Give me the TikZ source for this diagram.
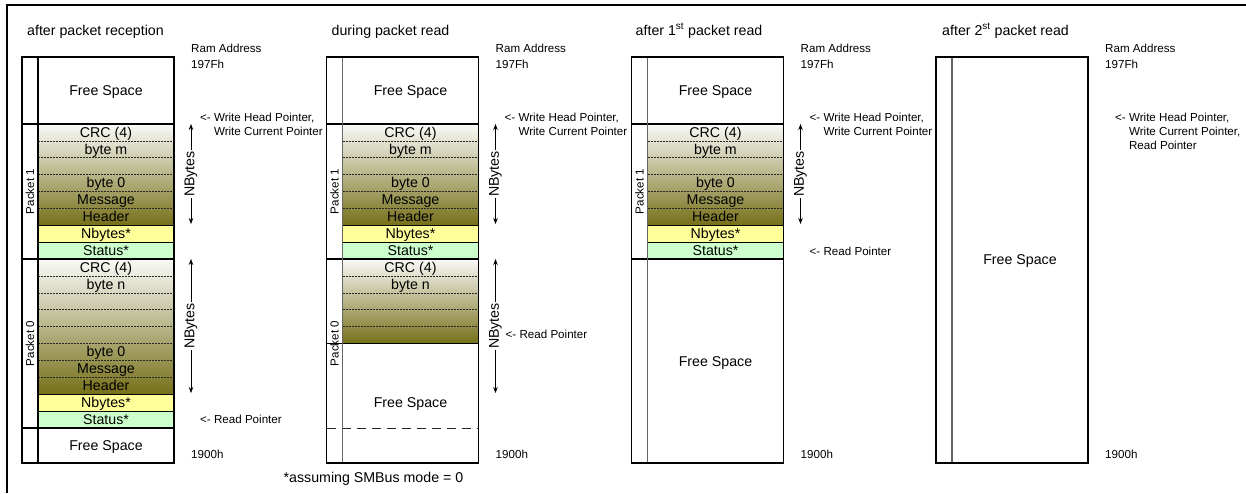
\documentclass[tikz,border=0pt]{standalone}
\usepackage{fontspec}
\setmainfont{Liberation Sans}
\usetikzlibrary{arrows.meta}
\definecolor{gtop}{HTML}{FAFAF8}
\definecolor{gmid}{HTML}{D2D1C5}
\definecolor{gbot}{HTML}{767019}
\definecolor{nbfill}{HTML}{FFFF99}
\definecolor{stfill}{HTML}{CCFFCC}
\newcommand\BigF{\fontsize{14.2}{15}\selectfont}
\newcommand\SmF{\fontsize{11.6}{14}\selectfont}
\newcommand\PktOne[1]{%
  \shade[grad] (16,124) rectangle (152,225.25);
  \fill[nbfill] (16,225.25) rectangle (152,242.125);
  \fill[stfill] (16,242.125) rectangle (152,259);
  \foreach \k in {1,...,5} {\draw[dsh] (16,{124+\k*16.875}) -- (152,{124+\k*16.875});}
  \draw[rowline] (16,225.25) -- (152,225.25);
  \draw[rowline] (16,242.125) -- (152,242.125);
  \node[cell] (#1a) at (84,137.2) {CRC (4)};
  \node[cell] (#1b) at (84,154.1) {byte m};
  \node[cell] (#1c) at (84,187.9) {byte 0};
  \node[cell] (#1d) at (84,204.8) {Message};
  \node[cell] (#1e) at (84,221.6) {Header};
  \node[cell] (#1f) at (84,238.5) {Nbytes*};
  \node[cell] (#1g) at (84,255.4) {Status*};
  \node[plabel] (#1p) at (8,191.5) {Packet 1};
  \coordinate (#1t) at (169,124);
  \coordinate (#1u) at (169,224);
  \draw[nb] (#1t) -- node[nblabel] (#1n) {NBytes} (#1u);
}
\newcommand\ColHead[2]{%
  \node[smt] (#1ram) at (169,52) {Ram Address};
  \node[smt] (#1adr) at (169,68) {197Fh};
  \node[smt] (#1low) at (169,458) {1900h};
}
\begin{document}
\begin{tikzpicture}[x=1pt,y=-1pt,
  cell/.style={font=\BigF, anchor=base, inner sep=0pt},
  bigt/.style={font=\BigF, anchor=base west, inner sep=0pt},
  smt/.style={font=\SmF, anchor=base west, inner sep=0pt},
  plabel/.style={font=\SmF, rotate=90, inner sep=0pt},
  nblabel/.style={font=\BigF, rotate=90, fill=white, inner sep=1pt},
  nb/.style={{Stealth[length=6pt,width=4.5pt]}-{Stealth[length=6pt,width=4.5pt]}, line width=0.7pt},
  grad/.style={top color=gtop, middle color=gmid, bottom color=gbot},
  dsh/.style={draw=black!85, line width=0.6pt, dash pattern=on 2pt off 1pt},
  rowline/.style={draw=black, line width=0.8pt},
  psep/.style={draw=black, line width=1.6pt},
  box/.style={draw=black, line width=1.4pt},
  divk/.style={draw=black, line width=1.2pt},
  divg/.style={draw=black!60, line width=1.2pt},
  bigdash/.style={draw=black!85, line width=0.9pt, dash pattern=on 9pt off 6pt},
]
\useasboundingbox (0,0) rectangle (1246,493);
\fill[white] (0,0) rectangle (1246,493);
\draw[line width=2pt] (7,493) -- (7,5) -- (1246,5);

% ---------- column 1 ----------
\begin{scope}[shift={(22,0)}]
  \node[bigt] (t1) at (5,35) {after packet reception};
  \ColHead{c1}{}
  \PktOne{c1p1}
  \shade[grad] (16,259) rectangle (152,394.2);
  \fill[nbfill] (16,394.2) rectangle (152,411.1);
  \fill[stfill] (16,411.1) rectangle (152,428);
  \foreach \k in {1,...,7} {\draw[dsh] (16,{259+\k*16.9}) -- (152,{259+\k*16.9});}
  \draw[rowline] (16,394.2) -- (152,394.2);
  \draw[rowline] (16,411.1) -- (152,411.1);
  \node[cell] (c1p0a) at (84,272.3) {CRC (4)};
  \node[cell] (c1p0b) at (84,289.2) {byte n};
  \node[cell] (c1p0c) at (84,356.8) {byte 0};
  \node[cell] (c1p0d) at (84,373.7) {Message};
  \node[cell] (c1p0e) at (84,390.6) {Header};
  \node[cell] (c1p0f) at (84,407.5) {Nbytes*};
  \node[cell] (c1p0g) at (84,424.4) {Status*};
  \node[plabel] (c1p0p) at (8,343.5) {Packet 0};
  \coordinate (c1p0t) at (169,259);
  \coordinate (c1p0u) at (169,393);
  \draw[nb] (c1p0t) -- node[nblabel] (c1p0n) {NBytes} (c1p0u);
  \node[cell] (c1fs1) at (84,95) {Free Space};
  \node[cell] (c1fs2) at (84,450) {Free Space};
  \draw[psep] (0,124) -- (152,124);
  \draw[psep] (0,259) -- (152,259);
  \draw[psep] (0,428) -- (152,428);
  \draw[divk] (16,57) -- (16,463);
  \draw[box] (0,57) rectangle (152,463);
  \node[smt] (c1w1) at (178,121) {<- Write Head Pointer,};
  \node[smt] (c1w2) at (178,135) {\phantom{<- }Write Current Pointer};
  \node[smt] (c1r) at (178,423) {<- Read Pointer};
\end{scope}

% ---------- column 2 ----------
\begin{scope}[shift={(326.5,0)}]
  \node[bigt] (t2) at (5,35) {during packet read};
  \ColHead{c2}{}
  \PktOne{c2p1}
  \shade[grad] (16,259) rectangle (152,343.5);
  \foreach \k in {1,...,4} {\draw[dsh] (16,{259+\k*16.9}) -- (152,{259+\k*16.9});}
  \node[cell] (c2p0a) at (84,272.3) {CRC (4)};
  \node[cell] (c2p0b) at (84,289.2) {byte n};
  \node[plabel] (c2p0p) at (8,343.5) {Packet 0};
  \coordinate (c2p0t) at (169,259);
  \coordinate (c2p0u) at (169,393);
  \draw[nb] (c2p0t) -- node[nblabel] (c2p0n) {NBytes} (c2p0u);
  \node[cell] (c2fs1) at (84,95) {Free Space};
  \node[cell] (c2fs2) at (84,407) {Free Space};
  \draw[psep] (0,124) -- (152,124);
  \draw[psep] (0,259) -- (152,259);
  \draw[psep] (0,343.5) -- (152,343.5);
  \draw[bigdash] (0,428) -- (152,428);
  \draw[divg] (16,57) -- (16,463);
  \draw[box] (0,57) rectangle (152,463);
  \node[smt] (c2w1) at (178,121) {<- Write Head Pointer,};
  \node[smt] (c2w2) at (178,135) {\phantom{<- }Write Current Pointer};
  \node[smt] (c2r) at (179,338) {<- Read Pointer};
  \node[font=\BigF, anchor=base, inner sep=0pt] (note) at (47,482) {*assuming SMBus mode = 0};
\end{scope}

% ---------- column 3 ----------
\begin{scope}[shift={(631.5,0)}]
  \node[bigt] (t3) at (4,35) {after 1\textsuperscript{st} packet read};
  \ColHead{c3}{}
  \PktOne{c3p1}
  \node[cell] (c3fs1) at (84,95) {Free Space};
  \node[cell] (c3fs2) at (84,366) {Free Space};
  \draw[psep] (0,124) -- (152,124);
  \draw[psep] (0,259) -- (152,259);
  \draw[divg] (16,57) -- (16,463);
  \draw[box] (0,57) rectangle (152,463);
  \node[smt] (c3w1) at (178,121) {<- Write Head Pointer,};
  \node[smt] (c3w2) at (178,135) {\phantom{<- }Write Current Pointer};
  \node[smt] (c3r) at (178,255) {<- Read Pointer};
\end{scope}

% ---------- column 4 ----------
\begin{scope}[shift={(936,0)}]
  \node[bigt] (t4) at (6,35) {after 2\textsuperscript{st} packet read};
  \ColHead{c4}{}
  \node[cell] (c4fs) at (84,264) {Free Space};
  \draw[divg] (16,57) -- (16,463);
  \draw[box] (0,57) rectangle (152,463);
  \node[smt] (c4w1) at (179,121) {<- Write Head Pointer,};
  \node[smt] (c4w2) at (179,135) {\phantom{<- }Write Current Pointer,};
  \node[smt] (c4w3) at (179,149) {\phantom{<- }Read Pointer};
\end{scope}
\end{tikzpicture}
\end{document}
